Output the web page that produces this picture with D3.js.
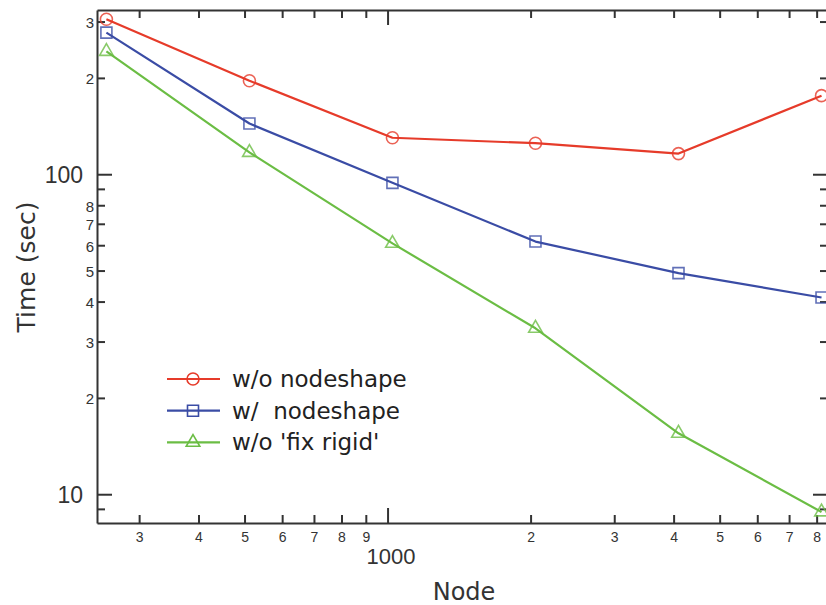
<!DOCTYPE html>
<html>
<head>
<meta charset="utf-8">
<script src="https://cdn.jsdelivr.net/npm/d3@7"></script>
<style>
  body { margin: 0; background: #fff; }
  svg { display: block; }
  .axis path, .axis line { stroke: #333; stroke-width: 2; }
  .axis text { fill: #333; font-family: "Liberation Sans", Arial, sans-serif; }
</style>
</head>
<body>
<svg id="chart" width="826" height="605"></svg>
<script>
// node counts (x) and timings in seconds (y)
var nodes = [256, 512, 1024, 2048, 4096, 8192];
var woNodeshape = [305, 196, 130, 125, 116, 176];
var wNodeshape = [277, 144, 94, 61.6, 49.1, 41.2];
var woFixRigid = [242, 117, 60.8, 33.0, 15.5, 8.8];

var seriesNames = ["w/o nodeshape", "w/  nodeshape", "w/o 'fix rigid'"];
var seriesColors = ["#e63b2a", "#3a4ca5", "#6bbd44"];
var seriesShapes = ["circle", "square", "triangle"];

var xMinorTicks = [300, 400, 500, 600, 700, 800, 900, 2000, 3000, 4000, 5000, 6000, 7000, 8000];
var xMajorTicks = [1000];
var yMinorTicks = [9, 20, 30, 40, 50, 60, 70, 80, 90, 200, 300];
var yMajorTicks = [10, 100];
var yUnlabelled = [9, 90];

var plotL = 97, plotR = 828, plotT = 10, plotB = 523;

var svg = d3.select("#chart");

var x = d3.scaleLog().domain([244.6, 8453]).range([plotL, plotR]);
var y = d3.scaleLog().domain([8.13, 326]).range([plotB, plotT]);

var digit = function (d) { return String(d).charAt(0); };

// bottom axis
var gb = svg.append("g").attr("class", "axis").attr("transform", "translate(0," + plotB + ")");
gb.call(d3.axisBottom(x).tickValues(xMinorTicks).tickSizeInner(-8).tickSizeOuter(0).tickPadding(9).tickFormat(digit));
gb.selectAll("text").style("font-size", "14px");
var gb2 = svg.append("g").attr("class", "axis").attr("transform", "translate(0," + plotB + ")");
gb2.call(d3.axisBottom(x).tickValues(xMajorTicks).tickSizeInner(-15).tickSizeOuter(0).tickPadding(25).tickFormat(d3.format("d")));
gb2.select(".domain").remove();
gb2.selectAll("text").style("font-size", "22px").attr("dx", 3);

// top axis
var gt = svg.append("g").attr("class", "axis").attr("transform", "translate(0," + plotT + ")");
gt.call(d3.axisTop(x).tickValues(xMinorTicks).tickSizeInner(-8).tickSizeOuter(0).tickFormat(""));
var gt2 = svg.append("g").attr("class", "axis").attr("transform", "translate(0," + plotT + ")");
gt2.call(d3.axisTop(x).tickValues(xMajorTicks).tickSizeInner(-15).tickSizeOuter(0).tickFormat(""));
gt2.select(".domain").remove();

// left axis
var gl = svg.append("g").attr("class", "axis").attr("transform", "translate(" + plotL + ",0)");
gl.call(d3.axisLeft(y).tickValues(yMinorTicks).tickSizeInner(-8).tickSizeOuter(0).tickPadding(3)
  .tickFormat(function (d) { return yUnlabelled.indexOf(d) >= 0 ? "" : digit(d); }));
gl.selectAll("text").style("font-size", "15px").attr("dy", "0.4em");
var gl2 = svg.append("g").attr("class", "axis").attr("transform", "translate(" + plotL + ",0)");
gl2.call(d3.axisLeft(y).tickValues(yMajorTicks).tickSizeInner(-15).tickSizeOuter(0).tickPadding(14).tickFormat(d3.format("d")));
gl2.select(".domain").remove();
gl2.selectAll("text").style("font-size", "23px").attr("dy", "0.38em");

// right axis
var gr = svg.append("g").attr("class", "axis").attr("transform", "translate(" + plotR + ",0)");
gr.call(d3.axisRight(y).tickValues(yMinorTicks).tickSizeInner(-8).tickSizeOuter(0).tickFormat(""));
var gr2 = svg.append("g").attr("class", "axis").attr("transform", "translate(" + plotR + ",0)");
gr2.call(d3.axisRight(y).tickValues(yMajorTicks).tickSizeInner(-15).tickSizeOuter(0).tickFormat(""));
gr2.select(".domain").remove();

// axis titles
svg.append("text")
  .attr("x", 464).attr("y", 600)
  .attr("text-anchor", "middle")
  .style("font-family", "'DejaVu Sans', sans-serif").style("font-size", "24px").attr("fill", "#333")
  .text("Node");
svg.append("text")
  .attr("transform", "translate(35,267) rotate(-90)")
  .attr("text-anchor", "middle")
  .style("font-family", "'DejaVu Sans', sans-serif").style("font-size", "25px").attr("fill", "#333")
  .text("Time (sec)");

var symbolFor = {
  circle: d3.symbol().type(d3.symbolCircle).size(113),
  square: d3.symbol().type(d3.symbolSquare).size(121),
  triangle: d3.symbol().type(d3.symbolTriangle).size(80)
};

var allSeries = [woNodeshape, wNodeshape, woFixRigid];

var line = d3.line()
  .x(function (d, i) { return x(nodes[i]); })
  .y(function (d) { return y(d); });

allSeries.forEach(function (vals, s) {
  svg.append("path")
    .attr("d", line(vals))
    .attr("fill", "none")
    .attr("stroke", seriesColors[s])
    .attr("stroke-width", 2.2)
    .attr("stroke-linejoin", "round");

  svg.selectAll(".m" + s)
    .data(vals)
    .enter()
    .append("path")
    .attr("class", "m" + s)
    .attr("d", symbolFor[seriesShapes[s]])
    .attr("transform", function (d, i) { return "translate(" + x(nodes[i]) + "," + y(d) + ")"; })
    .attr("fill", "none")
    .attr("stroke", seriesColors[s])
    .attr("stroke-opacity", 0.8)
    .attr("stroke-width", 1.6);
});

// legend
var legend = svg.append("g").attr("transform", "translate(167,379)");
seriesNames.forEach(function (name, s) {
  var row = legend.append("g").attr("transform", "translate(0," + (s * 31.7) + ")");
  row.append("line")
    .attr("x1", 0).attr("x2", 53).attr("y1", 0).attr("y2", 0)
    .attr("stroke", seriesColors[s]).attr("stroke-width", 2.2);
  row.append("path")
    .attr("d", symbolFor[seriesShapes[s]])
    .attr("transform", "translate(26,0)")
    .attr("fill", "none")
    .attr("stroke", seriesColors[s])
    .attr("stroke-width", 1.6);
  row.append("text")
    .attr("x", 65).attr("y", 8)
    .style("font-family", "'DejaVu Sans', sans-serif").style("font-size", "23px").attr("fill", "#222")
    .style("white-space", "pre")
    .text(name);
});
</script>
</body>
</html>
